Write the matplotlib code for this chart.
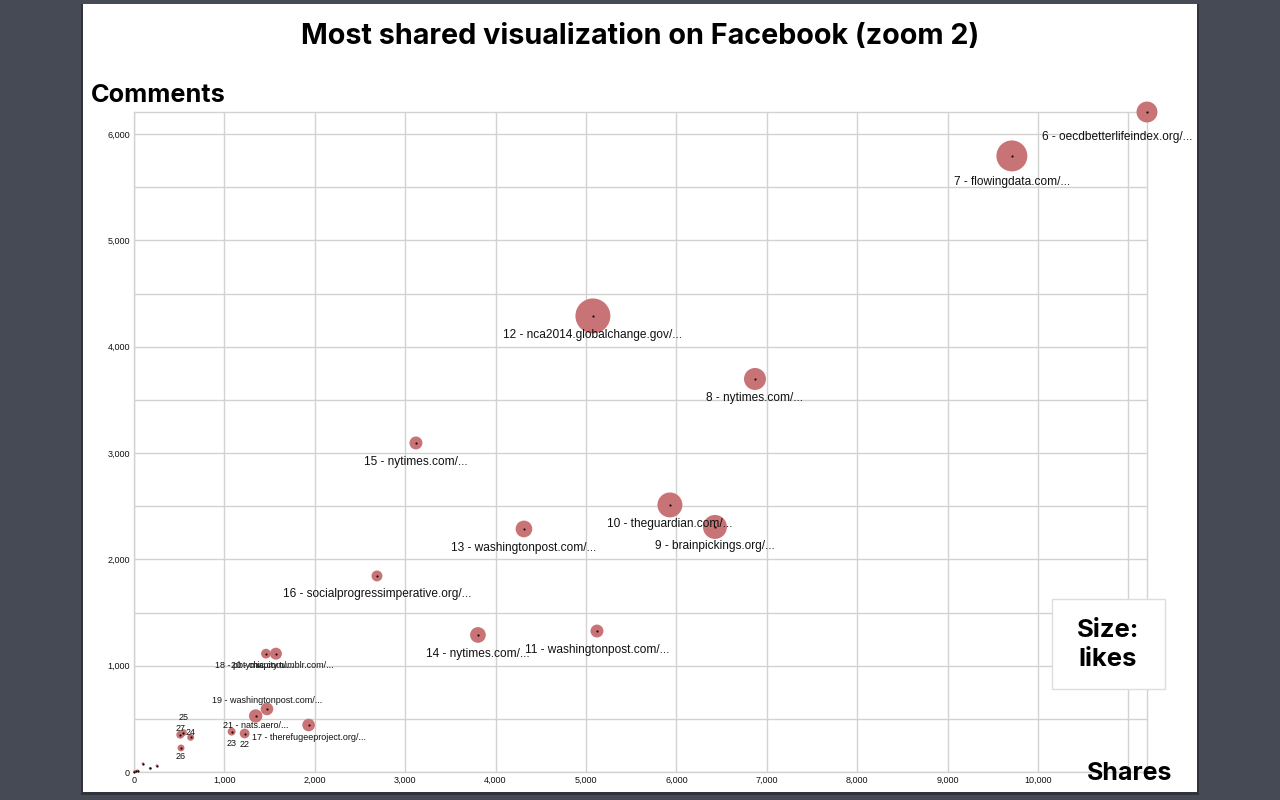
#!/usr/bin/python
# -*- coding: utf-8 -*

from matplotlib import pyplot as plt
from matplotlib.patches import Rectangle

shares = [11207, 9712, 6870, 6427, 5929, 5122, 5077, 4314, 3805, 3119, 2688, 1932, 1460, 1471,
          1570, 1346, 1224, 1080, 627, 545, 520, 512, 254, 180, 100, 40, 20, 5]
comments = [6208, 5795, 3697, 2305, 2512, 1326, 4290, 2286, 1289, 3095, 1844, 442, 1113, 593,
            1113, 527, 362, 380, 326, 370, 226, 351, 59, 35, 78, 12, 6, 3]
likes = [11000, 24000, 12100, 14400, 15600, 4200, 30600, 7000, 6200, 4200, 3000, 4000, 2400, 4000,
         3600, 4500, 2400, 1600, 1200, 1200, 1200, 1600, 200, 200, 200, 200, 200, 200]
labels = ["6 - oecdbetterlifeindex.org/...", "7 - flowingdata.com/...", "8 - nytimes.com/...",
          "9 - brainpickings.org/...", "10 - theguardian.com/...", "11 - washingtonpost.com/...",
          "12 - nca2014.globalchange.gov/...", "13 - washingtonpost.com/...", "14 - nytimes.com/...",
          "15 - nytimes.com/...", "16 - socialprogressimperative.org/...", "17 - therefugeeproject.org/...",
          "18 - pbtymic.com/...", "19 - washingtonpost.com/...", "20 - chapity.tumblr.com/...",
          "21 - nats.aero/...", "22", "23", "24", "25", "26", "27", "", "", "", "", "", ""]

x_ticks = [1000, 2000, 3000, 4000, 5000, 6000, 7000, 8000, 9000, 10000, 11000]
y_ticks = [500, 1000, 1500, 2000, 2500, 3000, 3500, 4000, 4500, 5000, 5500, 6000]

# label offsets from the point in pixels (positive = down), same order as labels
label_dx = [-30, 0, 0, 0, 0, 0, 0, 0, 0, 0, 0, 0, -12, 0, 6, 0, 0, 0, 0, 0, 0, 0]
label_dy = [25, 26, 19, 19, 19, 19, 19, 19, 19, 19, 18, 12, 12, -8, 12, 10, 11, 12, -5, -15, 9, -6]
n_big_labels = 11

PANEL = "#ffffff"
BG = "#454a55"
BUBBLE = "#c87476"
GRID = "#d2d2d2"
HEAD_FONT = "Inter"
TEXT_FONT = "Liberation Sans"


def fx(px):
    return px / 1280


def fy(py):
    return 1 - py / 800


fig = plt.figure(figsize=(12.8, 8), dpi=100, facecolor=BG)
# soft shadow under the white panel
fig.add_artist(Rectangle((fx(81), fy(795)), fx(1118), 791 / 800, transform=fig.transFigure,
                         facecolor="#22252b", edgecolor="none", alpha=0.6, zorder=-2))
fig.add_artist(Rectangle((fx(83), fy(792)), fx(1114), 788 / 800, transform=fig.transFigure,
                         facecolor=PANEL, edgecolor="none", zorder=-1))

ax = fig.add_axes([fx(134), fy(772), fx(1013), 660 / 800], facecolor="none")
ax.set_xlim(0, 11207)
ax.set_ylim(0, 6208)
ax.set_xticks([0] + x_ticks)
ax.set_yticks([0] + y_ticks)
# the 11,000 label is not shown in the original, only its grid line
ax.set_xticklabels(["0" if t == 0 else (f"{t:,}" if t < 11000 else "") for t in [0] + x_ticks],
                   fontsize=6.5, family=TEXT_FONT)
ax.set_yticklabels(["0" if t == 0 else (f"{t:,}" if t % 1000 == 0 else "") for t in [0] + y_ticks],
                   fontsize=6.5, family=TEXT_FONT)
ax.tick_params(length=0, pad=3, colors="#111111")
ax.grid(color=GRID, linewidth=1)
ax.set_axisbelow(True)
for spine in ax.spines.values():
    spine.set_color(GRID)
    spine.set_linewidth(1)

ax.scatter(shares, comments, s=[v * 0.0207 for v in likes], color=BUBBLE, linewidths=0,
           clip_on=False, zorder=3)
ax.scatter(shares, comments, s=2.5, color="#1a0505", linewidths=0, clip_on=False, zorder=4)

for i, label in enumerate(labels):
    if label == "":
        continue
    ax.annotate(label, (shares[i], comments[i]), xytext=(label_dx[i], -label_dy[i]),
                textcoords="offset pixels", ha="center", va="center", family=TEXT_FONT,
                fontsize=8.6 if i < n_big_labels else 6.5, color="#111111", zorder=5,
                annotation_clip=False)

fig.text(fx(640), fy(36), "Most shared visualization on Facebook (zoom 2)", ha="center", va="center",
         fontsize=20.7, fontweight="bold", family=HEAD_FONT, color="black")
fig.text(fx(91), fy(95), "Comments", ha="left", va="center", fontsize=18.2, fontweight="bold",
         family=HEAD_FONT, color="black")
fig.text(fx(1130), fy(773), "Shares", ha="center", va="center", fontsize=18, fontweight="bold",
         family=HEAD_FONT, color="black")

fig.add_artist(Rectangle((fx(1052), fy(689)), fx(113), 90 / 800, transform=fig.transFigure,
                         facecolor=PANEL, edgecolor="#dddddd", linewidth=1, zorder=6))
fig.text(fx(1108), fy(645), "Size:\nlikes", ha="center", va="center", fontsize=18.5, fontweight="bold",
         family=HEAD_FONT, color="black", linespacing=1.35, zorder=7)

plt.savefig("out.png", dpi=100, facecolor=BG)
